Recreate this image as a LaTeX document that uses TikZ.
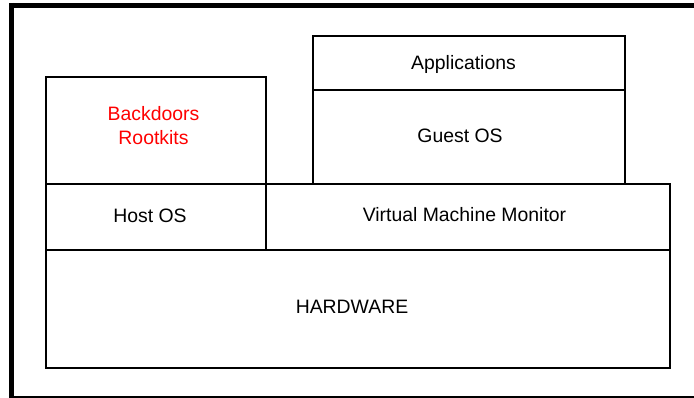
\documentclass[tikz,border=0pt]{standalone}
\usepackage{fontspec}
\setmainfont{Liberation Sans}
\begin{document}
\begin{tikzpicture}[x=1pt,y=-1pt,
  layer/.style={draw=black,line width=1.3pt,minimum width=#1,anchor=north west,inner sep=0pt,outer sep=0pt},
  lbl/.style={font=\fontsize{19.4}{24.5}\selectfont,text height=13.9pt,text depth=0pt,inner sep=0pt,align=center},
  frame/.style={draw=black}]
\useasboundingbox (0,0) rectangle (694,398);
% outer frame
\draw[frame,line width=5pt] (11.5,3) -- (11.5,398);
\draw[frame,line width=5pt] (9,5.5) -- (694,5.5);
\draw[frame,line width=2pt] (9,396.5) -- (694,396.5);
% layers
\node[layer=220pt,minimum height=107pt] (back) at (46,77) {};
\node[layer=312pt,minimum height=54pt] (app) at (313,36) {};
\node[layer=312pt,minimum height=94pt] (guest) at (313,90) {};
\node[layer=220pt,minimum height=66pt] (host) at (46,184) {};
\node[layer=404pt,minimum height=66pt] (vmm) at (266,184) {};
\node[layer=624pt,minimum height=118pt] (hw) at (46,250) {};
% labels
\node[lbl,text=red] (backtxt) at ([xshift=-2.5pt,yshift=-7.5pt]back.center) {Backdoors\\Rootkits};
\node[lbl] (apptxt) at ([xshift=-5.5pt]app.center) {Applications};
\node[lbl] (guesttxt) at ([xshift=-9pt,yshift=1.5pt]guest.center) {Guest OS};
\node[lbl] (hosttxt) at ([xshift=-6pt,yshift=1.5pt]host.center) {Host OS};
\node[lbl] (vmmtxt) at ([xshift=-3.5pt,yshift=2.5pt]vmm.center) {Virtual Machine Monitor};
\node[lbl] (hwtxt) at ([xshift=-6pt,yshift=2.5pt]hw.center) {HARDWARE};
\end{tikzpicture}
\end{document}
